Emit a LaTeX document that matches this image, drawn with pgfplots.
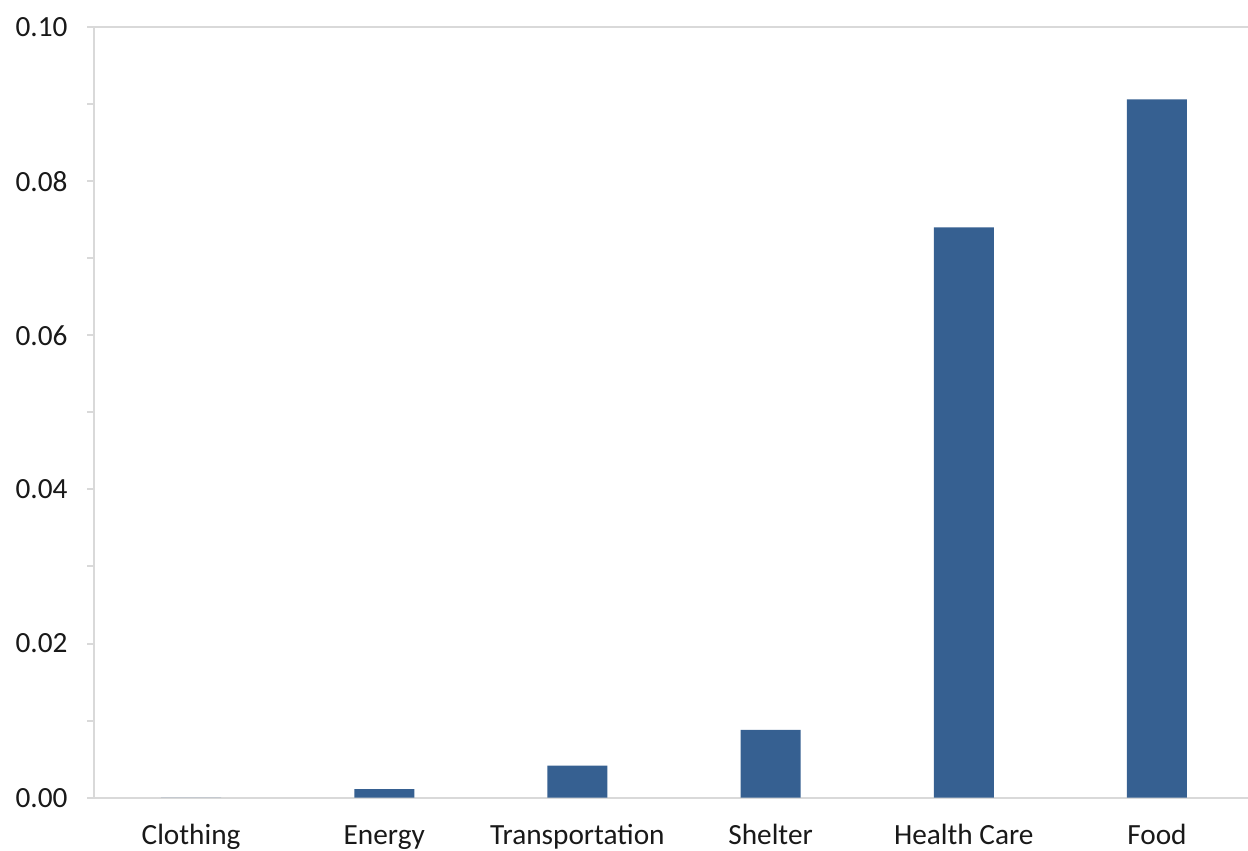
\documentclass[border=0pt]{standalone}
\usepackage{fontspec}
\setmainfont{Carlito}
\usepackage{pgfplots}
\pgfplotsset{compat=1.18}
\usetikzlibrary{calc}
\definecolor{barblue}{RGB}{54,96,145}
\definecolor{axgray}{RGB}{217,217,217}
\begin{document}
\begin{tikzpicture}
\begin{axis}[
  name=ax,
  scale only axis,
  width=579.5bp, height=385.35bp,
  xmin=-0.5, xmax=5.5, ymin=0, ymax=0.1,
  axis lines*=left,
  axis line style={axgray, line width=1bp},
  xtick={0,1,2,3,4,5},
  xticklabels={Clothing,Energy,Transportation,Shelter,Health Care,Food},
  x tick style={draw=none},
  ytick={0,0.02,0.04,0.06,0.08,0.1},
  minor ytick={0.01,0.03,0.05,0.07,0.09},
  y tick style={axgray, line width=1bp},
  tick align=outside,
  major tick length=3.5bp, minor tick length=3.5bp,
  scaled y ticks=false,
  yticklabel style={xshift=-6.5bp, /pgf/number format/.cd, fixed, fixed zerofill, precision=2, assume math mode=true},
  ticklabel style={font=\fontsize{14.7}{17}\selectfont, text=black!90},
  xticklabel style={anchor=base, yshift=-20bp},
  ybar, bar width=30bp,
  clip=false,
]
\addplot[fill=barblue, draw=none] coordinates {(0,0) (1,0.0011) (2,0.00415) (3,0.0088) (4,0.0740) (5,0.0906)};
\draw[axgray, line width=1bp] (rel axis cs:0,1) -- (rel axis cs:1,1);
\end{axis}
\pgfresetboundingbox
\path ($(ax.south west)+(-47.25bp,-26.65bp)$) rectangle ($(ax.north east)+(-2.75bp,13.5bp)$);
\end{tikzpicture}
\end{document}
